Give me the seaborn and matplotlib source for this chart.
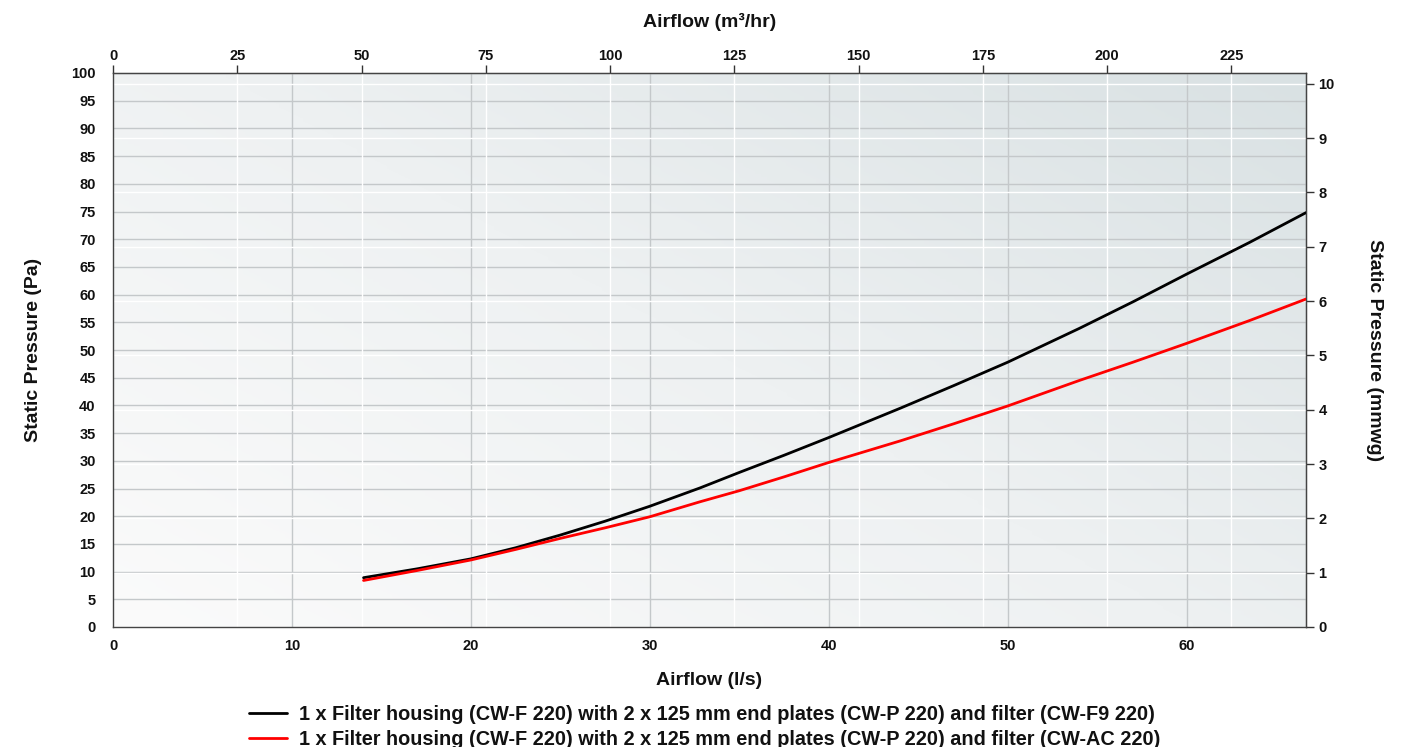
import numpy as np
import pandas as pd
import matplotlib
matplotlib.use("Agg")
import matplotlib.pyplot as plt
import seaborn as sns
from matplotlib.colors import LinearSegmentedColormap
from matplotlib.lines import Line2D

# ---- data ----
airflow_ls = [14, 17, 20, 22.5, 25, 27.5, 30, 32.8, 35, 37.5, 40, 44, 47, 50, 54, 57, 60, 63.5, 66.67]
pressure_f9 = [8.9, 10.5, 12.3, 14.3, 16.6, 19.1, 21.8, 25.1, 27.9, 31.0, 34.2, 39.5, 43.6, 47.8,
               53.9, 58.7, 63.7, 69.4, 74.8]
pressure_ac = [8.4, 10.2, 12.1, 14.0, 16.0, 17.9, 19.9, 22.6, 24.6, 27.1, 29.7, 33.6, 36.7, 39.9,
               44.5, 47.8, 51.2, 55.3, 59.2]
label_f9 = "1 x Filter housing (CW-F 220) with 2 x 125 mm end plates (CW-P 220) and filter (CW-F9 220)"
label_ac = "1 x Filter housing (CW-F 220) with 2 x 125 mm end plates (CW-P 220) and filter (CW-AC 220)"
x_ticks_ls = [0, 10, 20, 30, 40, 50, 60]
x_ticks_m3h = [0, 25, 50, 75, 100, 125, 150, 175, 200, 225]
y_ticks_pa = list(range(0, 101, 5))
y_ticks_mmwg = list(range(0, 11))

XMAX = 240 / 3.6
PA_PER_MMWG = 9.80665

df = pd.concat([
    pd.DataFrame({"Airflow": airflow_ls, "Pressure": pressure_f9, "Series": label_f9}),
    pd.DataFrame({"Airflow": airflow_ls, "Pressure": pressure_ac, "Series": label_ac}),
])

sns.set_style("white")
plt.rcParams["font.family"] = ["Liberation Sans", "DejaVu Sans"]
plt.rcParams["font.weight"] = "bold"
plt.rcParams["lines.solid_joinstyle"] = "round"

TXT = "#111111"
fig = plt.figure(figsize=(14.1, 7.47), dpi=100)
ax = fig.add_axes([113 / 1410, 1 - 627 / 747, (1306 - 113) / 1410, (627 - 73) / 747])

# gradient background
n = 200
xx, yy = np.meshgrid(np.linspace(0, 1, n), np.linspace(0, 1, n))
grad = (0.55 * xx + 0.45 * yy)
cmap = LinearSegmentedColormap.from_list("bg", ["#fbfbfb", "#eef1f2", "#d9e1e3"])
ax.imshow(grad, extent=[0, XMAX, 0, 100], origin="lower", aspect="auto",
          cmap=cmap, zorder=0, interpolation="bilinear")

ax.set_xlim(0, XMAX)
ax.set_ylim(0, 100)

# gray grid (primary axes)
for v in x_ticks_ls[1:]:
    ax.axvline(v, color="#c4c8ca", lw=1.0, zorder=1)
for v in y_ticks_pa[1:-1]:
    ax.axhline(v, color="#c4c8ca", lw=1.0, zorder=1)
# white grid (secondary axes)
for v in x_ticks_m3h[1:]:
    ax.axvline(v / 3.6, color="white", lw=1.0, zorder=1.1)
for v in y_ticks_mmwg[1:]:
    ax.axhline(v * PA_PER_MMWG, color="white", lw=1.0, zorder=1.1)

sns.lineplot(data=df, x="Airflow", y="Pressure", hue="Series",
             palette=["#000000", "#ff0000"], linewidth=2, ax=ax,
             zorder=3, legend=False, sort=True, estimator=None)

ax.set_xticks(x_ticks_ls)
ax.set_yticks(y_ticks_pa)
ax.tick_params(axis="x", direction="out", length=6, width=1, colors="#333333",
               labelcolor=TXT, labelsize=10.5, pad=3)
ax.tick_params(axis="y", direction="out", length=9.5, width=1, colors="#333333",
               labelcolor=TXT, labelsize=10.5, pad=3)
for lab in ax.get_xticklabels() + ax.get_yticklabels():
    lab.set_fontweight("bold")
ax.set_xlabel("Airflow (l/s)", fontsize=14, fontweight="bold", labelpad=13, color=TXT)
ax.set_ylabel("Static Pressure (Pa)", fontsize=14, fontweight="bold", labelpad=21, color=TXT)
for s in ax.spines.values():
    s.set_color("#444444")
    s.set_linewidth(1.0)

# top axis (m3/hr)
axt = ax.secondary_xaxis("top", functions=(lambda x: x * 3.6, lambda x: x / 3.6))
axt.set_xticks(x_ticks_m3h)
axt.tick_params(direction="out", length=6, width=1, colors="#333333",
                labelcolor=TXT, labelsize=10.5, pad=1)
for lab in axt.get_xticklabels():
    lab.set_fontweight("bold")
axt.set_xlabel("Airflow (m³/hr)", fontsize=14, fontweight="bold", labelpad=16, color=TXT)

# right axis (mmwg)
axr = ax.secondary_yaxis("right", functions=(lambda y: y / PA_PER_MMWG, lambda y: y * PA_PER_MMWG))
axr.set_yticks(y_ticks_mmwg)
axr.tick_params(direction="out", length=6, width=1, colors="#333333",
                labelcolor=TXT, labelsize=10.5, pad=3)
for lab in axr.get_yticklabels():
    lab.set_fontweight("bold")
axr.set_ylabel("Static Pressure (mmwg)", fontsize=14, fontweight="bold",
               rotation=-90, labelpad=35, color=TXT)

# legend below
handles = [Line2D([0], [0], color="#000000", lw=2), Line2D([0], [0], color="#ff0000", lw=2)]
leg = fig.legend(handles, [label_f9, label_ac], loc="center", bbox_to_anchor=(0.5, 1 - 727 / 747),
                 frameon=False, prop={"weight": "bold", "size": 14.3}, handlelength=1.9,
                 handletextpad=0.6, labelspacing=0.26, borderpad=0)
for t in leg.get_texts():
    t.set_color(TXT)

fig.savefig("out.png", dpi=100)
